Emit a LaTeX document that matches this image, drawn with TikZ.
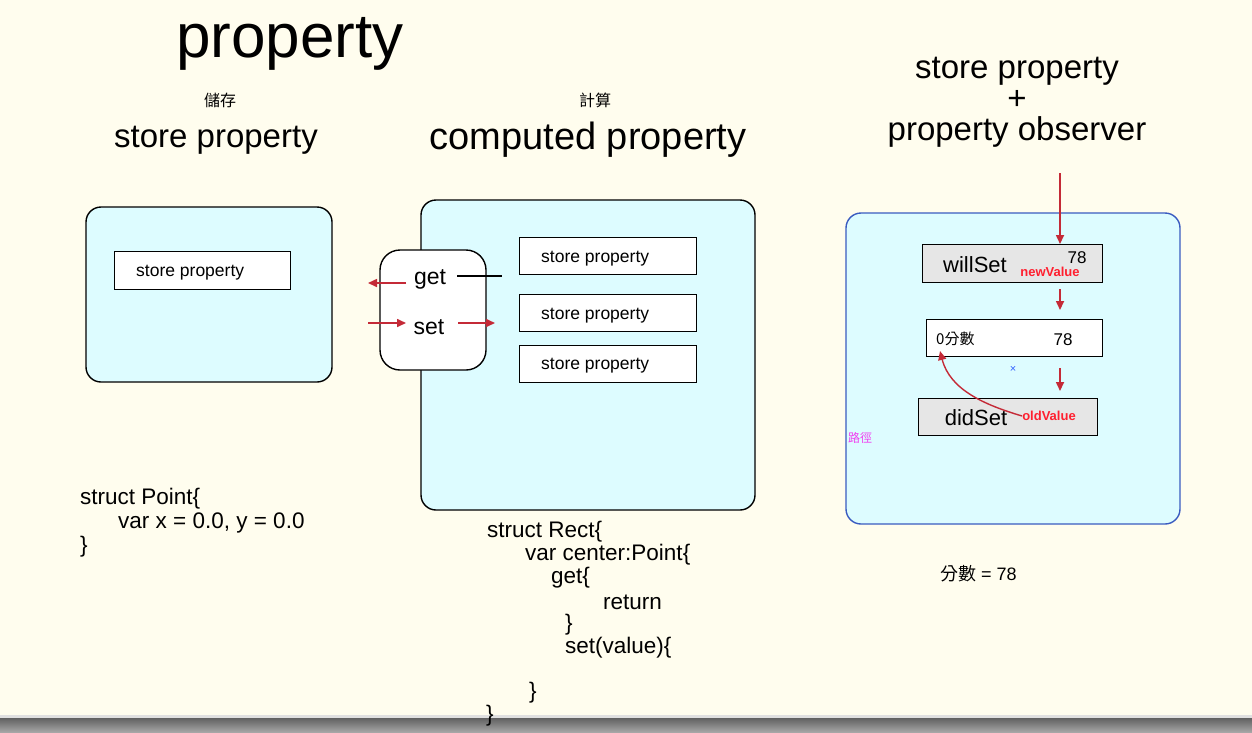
\documentclass[tikz,border=0pt]{standalone}
\usepackage{fontspec}
\setmainfont{Liberation Sans}
\newfontfamily\cjk{Noto Sans CJK TC}
\usetikzlibrary{arrows.meta}
\definecolor{bg}{HTML}{FFFDEE}
\definecolor{cyanfill}{HTML}{DDFCFF}
\definecolor{arrowred}{HTML}{C42A37}
\definecolor{boxblue}{HTML}{3A5BC0}
\definecolor{grayfill}{HTML}{E6E6E6}
\definecolor{textred}{HTML}{FF1F2F}
\definecolor{pinktext}{HTML}{F040F0}
\definecolor{xblue}{HTML}{3060FF}
\tikzset{
  fs/.style={font=\fontsize{#1}{#1}\selectfont},
  outerbox/.style={draw=black, line width=1.4pt, fill=cyanfill, rounded corners=15pt},
  innerbox/.style={draw=black, line width=1.2pt, fill=white},
  graybox/.style={draw=black, line width=1.4pt, fill=grayfill},
  redarrow/.style={draw=arrowred, line width=1.6pt, -{Triangle[length=9pt,width=8pt]}},
  codeline/.style={fs=22.5, anchor=west, inner sep=0pt},
  sptext/.style={fs=17.5, anchor=west, inner sep=0pt},
  txt/.style={inner sep=0pt},
}
\begin{document}
\begin{tikzpicture}[x=1pt,y=-1pt]
\useasboundingbox (0,0) rectangle (1252,732);
\fill[bg] (0,0) rectangle (1252,732);
\shade[top color=black!62, bottom color=black!35] (0,718) rectangle (1252,732);
\fill[black!12] (0,715) rectangle (1252,718);

% titles
\node[txt, fs=62] (title) at (290,44) {property};
\node[txt, font=\cjk\fontsize{16}{16}\selectfont] (cj1) at (220,100) {儲存};
\node[txt, fs=33] (h1) at (216,140) {store property};
\node[txt, font=\cjk\fontsize{16}{16}\selectfont] (cj2) at (595,100) {計算};
\node[txt, fs=38] (h2) at (588,140) {computed property};
\node[txt, font=\fontsize{33}{31}\selectfont, align=center] (h3) at (1017,102) {store property\\+\\property observer};

% box 1
\draw[outerbox] (86,207) rectangle (332,382);
\node[innerbox, minimum width=176pt, minimum height=38pt, anchor=north west] (sp0) at (114,251) {};
\node[sptext] (sp0t) at (136,273) {store property};

% box 2
\draw[outerbox] (421,200) rectangle (755,510);
\node[innerbox, minimum width=177pt, minimum height=37pt, anchor=north west] (sp1) at (519,237) {};
\node[innerbox, minimum width=177pt, minimum height=37pt, anchor=north west] (sp2) at (519,294) {};
\node[innerbox, minimum width=177pt, minimum height=37pt, anchor=north west] (sp3) at (519,345) {};
\node[sptext] (sp1t) at (541,259) {store property};
\node[sptext] (sp2t) at (541,316) {store property};
\node[sptext] (sp3t) at (541,366) {store property};
\draw[draw=black, line width=1.4pt, fill=white, rounded corners=20pt] (380,250) rectangle (486,370);
\node[txt, fs=23] (get) at (430,279) {get};
\node[txt, fs=23] (set) at (429,327) {set};
\coordinate (getR) at (457,276);
\coordinate (getE) at (502,276);
\draw[line width=1.3pt] (getR) -- (getE);
\coordinate (g1) at (406,283);
\coordinate (g2) at (368,283);
\draw[redarrow] (g1) -- (g2);
\coordinate (s1) at (368,323);
\coordinate (s2) at (406,323);
\draw[redarrow] (s1) -- (s2);
\coordinate (s3) at (458,323);
\coordinate (s4) at (495,323);
\draw[redarrow] (s3) -- (s4);

% box 3
\draw[draw=boxblue, line width=1.4pt, fill=cyanfill, rounded corners=15pt] (846,213) rectangle (1180,524);
\node[graybox, minimum width=180pt, minimum height=38pt, anchor=north west] (will) at (922,244) {};
\node[txt, fs=22] (willT) at (975,265) {willSet};
\node[txt, fs=17] (w78) at (1077,258) {78};
\node[txt, text=textred, font=\bfseries\fontsize{13}{13}\selectfont] (newv) at (1050,272) {newValue};
\node[innerbox, line width=1.4pt, minimum width=176pt, minimum height=37pt, anchor=north west] (mid) at (926,319) {};
\node[txt, anchor=west, font=\cjk\fontsize{15}{15}\selectfont] (score) at (936,339) {0分數};
\node[txt, fs=17] (m78) at (1063,340) {78};
\node[graybox, minimum width=179pt, minimum height=37pt, anchor=north west] (did) at (918,398) {};
\node[txt, fs=22] (didT) at (976,418) {didSet};
\node[txt, text=textred, font=\bfseries\fontsize{13}{13}\selectfont] (oldv) at (1049,416) {oldValue};

\coordinate (topA) at (1060,173);
\draw[redarrow] (topA) -- (will.north -| topA);
\coordinate (a1) at (1060,289);
\coordinate (a2) at (1060,310);
\draw[redarrow] (a1) -- (a2);
\coordinate (a3) at (1060,368);
\coordinate (a4) at (1060,391);
\draw[redarrow] (a3) -- (a4);
\coordinate (cEnd) at (940,351);
\draw[redarrow, line width=1.4pt] (oldv.west) .. controls (985,405) and (950,390) .. (cEnd);
\node[txt, text=xblue, fs=11] (xmark) at (1013,369) {×};
\node[txt, text=pinktext, font=\cjk\fontsize{12}{12}\selectfont] (path) at (860,438) {路徑};

% code
\node[codeline] (c1) at (80,499) {struct Point\{};
\node[codeline] (c2) at (118,523) {var x = 0.0, y = 0.0};
\node[codeline] (c3) at (80,547) {\}};

\node[codeline] (r1) at (487,532) {struct Rect\{};
\node[codeline] (r2) at (525,555) {var center:Point\{};
\node[codeline] (r3) at (551,578) {get\{};
\node[codeline] (r4) at (603,602) {return};
\node[codeline] (r5) at (565,625) {\}};
\node[codeline] (r6) at (565,648) {set(value)\{};
\node[codeline] (r7) at (529,693) {\}};
\node[codeline] (r8) at (486,716) {\}};

\node[txt, anchor=west, font=\fontsize{18}{18}\selectfont] (eq) at (940,574) {{\cjk 分數} = 78};
\end{tikzpicture}
\end{document}
